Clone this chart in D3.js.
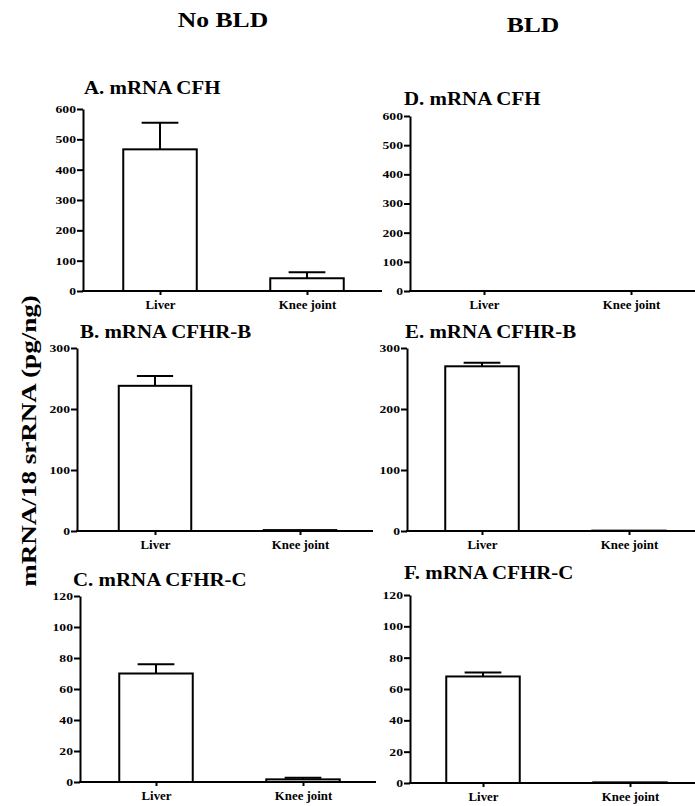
<!DOCTYPE html>
<html>
<head>
<meta charset="utf-8">
<script src="https://cdn.jsdelivr.net/npm/d3@7"></script>
<style>
  html, body { margin: 0; padding: 0; background: #fff; }
  svg text { font-family: "Liberation Serif", "Times New Roman", serif; font-weight: bold; fill: #000; }
</style>
</head>
<body>
<svg id="chart"></svg>
<script>
// data
const categories = ['Liver', 'Knee joint'];
const groupTitles = ['No BLD', 'BLD'];
const panelTitles = ['A. mRNA CFH', 'B. mRNA CFHR-B', 'C. mRNA CFHR-C',
                     'D. mRNA CFH', 'E. mRNA CFHR-B', 'F. mRNA CFHR-C'];
const meanValues = [[467, 42], [238, 1.5], [70, 1.7], [null, null], [270, 0.6], [68, 0.4]];
const semValues = [[88, 20], [16, 0], [6, 1.1], [null, null], [6, 0], [2.5, 0]];
const yMaxValues = [600, 300, 120, 600, 300, 120];
const yTickValues = [
  [0, 100, 200, 300, 400, 500, 600],
  [0, 100, 200, 300],
  [0, 20, 40, 60, 80, 100, 120],
  [0, 100, 200, 300, 400, 500, 600],
  [0, 100, 200, 300],
  [0, 20, 40, 60, 80, 100, 120]
];
const yLabel = 'mRNA/18 srRNA (pg/ng)';

// layout of each panel in pixels
const layout = [
  { axisX: 83,  xEnd: 382, c0: 160, c1: 307, yTop: 109, yBottom: 291, tx: 84,  ty: 94 },
  { axisX: 77,  xEnd: 373, c0: 155, c1: 300, yTop: 348, yBottom: 531, tx: 80,  ty: 338 },
  { axisX: 80,  xEnd: 376, c0: 156, c1: 303, yTop: 596, yBottom: 782, tx: 73,  ty: 586 },
  { axisX: 410, xEnd: 695, c0: 484, c1: 631, yTop: 116, yBottom: 291, tx: 404, ty: 105 },
  { axisX: 407, xEnd: 695, c0: 482, c1: 629, yTop: 348, yBottom: 531, tx: 405, ty: 338 },
  { axisX: 410, xEnd: 695, c0: 483, c1: 630, yTop: 595, yBottom: 783, tx: 404, ty: 579 }
];

const width = 695;
const height = 806;
const FONT = '"Liberation Serif", "Times New Roman", serif';

const svg = d3.select('#chart')
  .attr('width', width)
  .attr('height', height);

svg.append('rect').attr('width', width).attr('height', height).attr('fill', '#fff');

// stretched text helper (the source figure is scaled wider than tall)
function stretchedText(parent, x, y, str, size, sx, anchor) {
  return parent.append('text')
    .attr('transform', `translate(${x},${y}) scale(${sx},1)`)
    .attr('text-anchor', anchor || 'start')
    .style('font-family', FONT)
    .style('font-size', size + 'px')
    .text(str);
}

// column headers
stretchedText(svg, 223, 27, groupTitles[0], 20, 1.28, 'middle');
stretchedText(svg, 533, 32, groupTitles[1], 20, 1.28, 'middle');

// shared y label
svg.append('text')
  .attr('transform', 'translate(36,441) rotate(-90) scale(1.23,1)')
  .attr('text-anchor', 'middle')
  .style('font-family', FONT)
  .style('font-size', '22px')
  .text(yLabel);

function drawPanel(i) {
  const L = layout[i];
  const g = svg.append('g').attr('class', 'panel');

  const step = L.c1 - L.c0;
  const x = d3.scalePoint()
    .domain(categories)
    .range([L.c0 - step / 2, L.c1 + step / 2])
    .padding(0.5);
  const barW = step * 0.5;

  const y = d3.scaleLinear()
    .domain([0, yMaxValues[i]])
    .range([L.yBottom, L.yTop]);

  // title
  stretchedText(g, L.tx, L.ty, panelTitles[i], 19, 1.1, 'start');

  // bars
  const rows = categories.map((c, j) => ({ cat: c, mean: meanValues[i][j], sem: semValues[i][j] }))
    .filter(d => d.mean !== null);

  // error bars (drawn first, the bar outline sits on top)
  const err = g.selectAll('.err').data(rows.filter(d => d.sem > 0)).enter().append('g').attr('class', 'err');
  err.append('line')
    .attr('x1', d => x(d.cat)).attr('x2', d => x(d.cat))
    .attr('y1', d => y(d.mean)).attr('y2', d => y(d.mean + d.sem))
    .attr('stroke', '#000').attr('stroke-width', 2);
  err.append('line')
    .attr('x1', d => x(d.cat) - barW / 4).attr('x2', d => x(d.cat) + barW / 4)
    .attr('y1', d => y(d.mean + d.sem)).attr('y2', d => y(d.mean + d.sem))
    .attr('stroke', '#000').attr('stroke-width', 2);

  g.selectAll('.bar').data(rows).enter().append('rect')
    .attr('class', 'bar')
    .attr('x', d => x(d.cat) - barW / 2)
    .attr('y', d => y(d.mean))
    .attr('width', barW)
    .attr('height', d => y(0) - y(d.mean))
    .attr('fill', '#fff')
    .attr('stroke', '#000')
    .attr('stroke-width', 2);

  // y axis
  const yAxis = g.append('g')
    .attr('transform', `translate(${L.axisX},0)`)
    .call(d3.axisLeft(y).tickValues(yTickValues[i]).tickSize(6).tickSizeOuter(0).tickFormat(d3.format('d')));
  yAxis.select('.domain').attr('stroke-width', 2);
  yAxis.selectAll('.tick line').attr('stroke-width', 2);
  yAxis.selectAll('.tick text')
    .attr('x', -5.4)
    .attr('transform', 'scale(1.3,1)')
    .style('font-size', '10.5px')
    .style('font-family', FONT)
    .style('font-weight', 'bold');

  // x axis
  const xAxis = g.append('g')
    .attr('transform', `translate(0,${L.yBottom})`)
    .call(d3.axisBottom(x).tickSize(4).tickSizeOuter(0));
  xAxis.select('.domain').remove();
  xAxis.selectAll('.tick line').attr('stroke-width', 2);
  xAxis.selectAll('.tick text')
    .attr('y', 0)
    .attr('dy', 0)
    .attr('transform', 'translate(0,18) scale(1.07,1)')
    .style('font-size', '12px')
    .style('font-family', FONT)
    .style('font-weight', 'bold');
  g.append('line')
    .attr('x1', L.axisX - 1).attr('x2', L.xEnd)
    .attr('y1', L.yBottom).attr('y2', L.yBottom)
    .attr('stroke', '#000').attr('stroke-width', 2);
}

panelTitles.forEach((t, i) => drawPanel(i));
</script>
</body>
</html>
